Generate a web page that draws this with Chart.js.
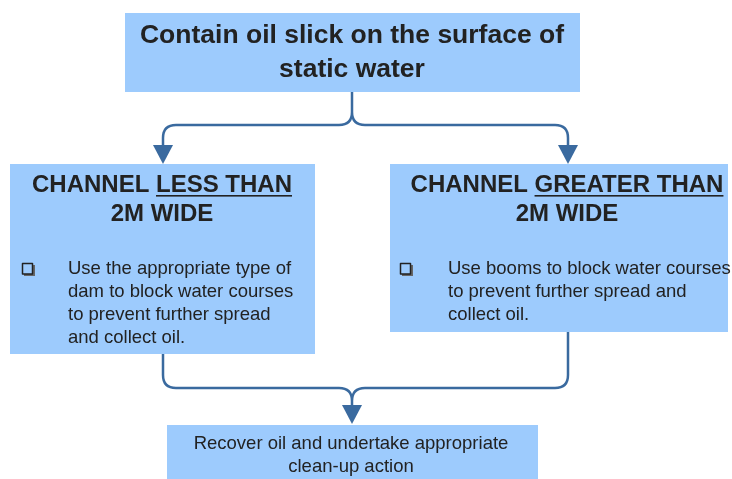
<!DOCTYPE html>
<html>
<head>
<meta charset="utf-8">
<script src="https://cdn.jsdelivr.net/npm/chart.js@4"></script>
<style>
  html, body { margin: 0; padding: 0; background: #fff; }
  #wrap { width: 732px; height: 479px; }
</style>
</head>
<body>
<div id="wrap"><canvas id="flow" width="732" height="479"></canvas></div>
<script>
// text content of the diagram
const topLines = ["Contain oil slick on the surface of", "static water"];
// each heading line is a list of parts, odd parts are underlined
const leftHead = [["CHANNEL ", "LESS THAN"], ["2M WIDE"]];
const rightHead = [["CHANNEL ", "GREATER THAN"], ["2M WIDE"]];
const leftBullet = ["Use the appropriate type of", "dam to block water courses", "to prevent further spread", "and collect oil."];
const rightBullet = ["Use booms to block water courses", "to prevent further spread and", "collect oil."];
const bottomLines = ["Recover oil and undertake appropriate", "clean-up action"];

// layout in diagram units (x 0..732, y 0..479 top-down)
const layout = {
    top:    { x0: 125, x1: 580, y0: 13,  y1: 92 },
    left:   { x0: 10,  x1: 315, y0: 164, y1: 354 },
    right:  { x0: 390, x1: 728, y0: 164, y1: 332 },
    bottom: { x0: 167, x1: 538, y0: 425, y1: 482 }
};

const boxFill = "#9dcbfd";
const lineCol = "#3a6a9f";
const textCol = "#222";
const fam = "'Liberation Sans', Arial, sans-serif";

const flowPlugin = {
    id: "flow",
    afterDraw(chart) {
        const ctx = chart.ctx;
        const sx = chart.scales.x, sy = chart.scales.y;
        const X = v => sx.getPixelForValue(v);
        const Y = v => sy.getPixelForValue(v);

        ctx.save();

        // boxes
        Object.values(layout).forEach(b => {
            ctx.fillStyle = boxFill;
            ctx.fillRect(X(b.x0), Y(b.y0), X(b.x1) - X(b.x0), Y(b.y1) - Y(b.y0));
        });

        // connectors
        ctx.strokeStyle = lineCol;
        ctx.fillStyle = lineCol;
        ctx.lineWidth = 2.5;
        ctx.lineJoin = "round";

        const r = 13;
        const mid = 352, lx = 163, rx = 568;

        function arrow(x, tip) {
            ctx.beginPath();
            ctx.moveTo(X(x - 10), Y(tip - 19));
            ctx.lineTo(X(x + 10), Y(tip - 19));
            ctx.lineTo(X(x), Y(tip));
            ctx.closePath();
            ctx.fill();
        }

        // top split
        const hy = 125;
        ctx.beginPath();
        ctx.moveTo(X(mid), Y(92));
        ctx.lineTo(X(mid), Y(hy - r));
        ctx.quadraticCurveTo(X(mid), Y(hy), X(mid - r), Y(hy));
        ctx.lineTo(X(lx + r), Y(hy));
        ctx.quadraticCurveTo(X(lx), Y(hy), X(lx), Y(hy + r));
        ctx.lineTo(X(lx), Y(150));
        ctx.moveTo(X(mid), Y(hy - r));
        ctx.quadraticCurveTo(X(mid), Y(hy), X(mid + r), Y(hy));
        ctx.lineTo(X(rx - r), Y(hy));
        ctx.quadraticCurveTo(X(rx), Y(hy), X(rx), Y(hy + r));
        ctx.lineTo(X(rx), Y(150));
        ctx.stroke();
        arrow(lx, 164);
        arrow(rx, 164);

        // bottom join
        const by = 388;
        ctx.beginPath();
        ctx.moveTo(X(lx), Y(354));
        ctx.lineTo(X(lx), Y(by - r));
        ctx.quadraticCurveTo(X(lx), Y(by), X(lx + r), Y(by));
        ctx.lineTo(X(mid - r), Y(by));
        ctx.quadraticCurveTo(X(mid), Y(by), X(mid), Y(by + r));
        ctx.lineTo(X(mid), Y(410));
        ctx.moveTo(X(rx), Y(332));
        ctx.lineTo(X(rx), Y(by - r));
        ctx.quadraticCurveTo(X(rx), Y(by), X(rx - r), Y(by));
        ctx.lineTo(X(mid + r), Y(by));
        ctx.quadraticCurveTo(X(mid), Y(by), X(mid), Y(by + r));
        ctx.stroke();
        arrow(mid, 424);

        // text
        ctx.fillStyle = textCol;
        ctx.textBaseline = "middle";

        function centered(lines, cx, y0, step, font) {
            ctx.font = font;
            ctx.textAlign = "center";
            lines.forEach((t, i) => ctx.fillText(t, X(cx), Y(y0 + i * step)));
        }

        function heading(lines, cx, y0, step) {
            ctx.font = "bold 24px " + fam;
            ctx.textAlign = "left";
            lines.forEach((parts, i) => {
                const full = parts.join("");
                let x = X(cx) - ctx.measureText(full).width / 2;
                const y = Y(y0 + i * step);
                parts.forEach((p, j) => {
                    const w = ctx.measureText(p).width;
                    ctx.fillText(p, x, y);
                    if (j % 2 === 1) {
                        ctx.fillRect(x, y + 10, w, 1.6);
                    }
                    x += w;
                });
            });
        }

        function bullet(lines, bx, tx, y0, step) {
            ctx.save();
            ctx.fillStyle = "#666";
            ctx.fillRect(X(bx) + 2, Y(y0) + 5, 11, 2);
            ctx.fillRect(X(bx) + 11, Y(y0) - 4, 2, 11);
            ctx.strokeStyle = "#222";
            ctx.lineWidth = 1.5;
            ctx.strokeRect(X(bx) + 0.5, Y(y0) - 5.5, 10, 10.5);
            ctx.restore();
            ctx.font = "18.5px " + fam;
            ctx.textAlign = "left";
            lines.forEach((t, i) => ctx.fillText(t, X(tx), Y(y0 + i * step)));
        }

        centered(topLines, 352, 36, 34, "bold 26.5px " + fam);
        heading(leftHead, 162, 185, 29);
        heading(rightHead, 567, 185, 29);
        bullet(leftBullet, 22, 68, 269, 23);
        bullet(rightBullet, 400, 448, 269, 23);
        centered(bottomLines, 351, 444, 23, "18.5px " + fam);

        ctx.restore();
    }
};

new Chart(document.getElementById("flow"), {
    type: "scatter",
    data: { datasets: [{ data: [] }] },
    options: {
        responsive: false,
        animation: false,
        devicePixelRatio: 1,
        layout: { padding: 0 },
        plugins: { legend: { display: false }, tooltip: { enabled: false } },
        scales: {
            x: { type: "linear", min: 0, max: 732, display: false },
            y: { type: "linear", min: 0, max: 479, reverse: true, display: false }
        }
    },
    plugins: [flowPlugin]
});
</script>
</body>
</html>
